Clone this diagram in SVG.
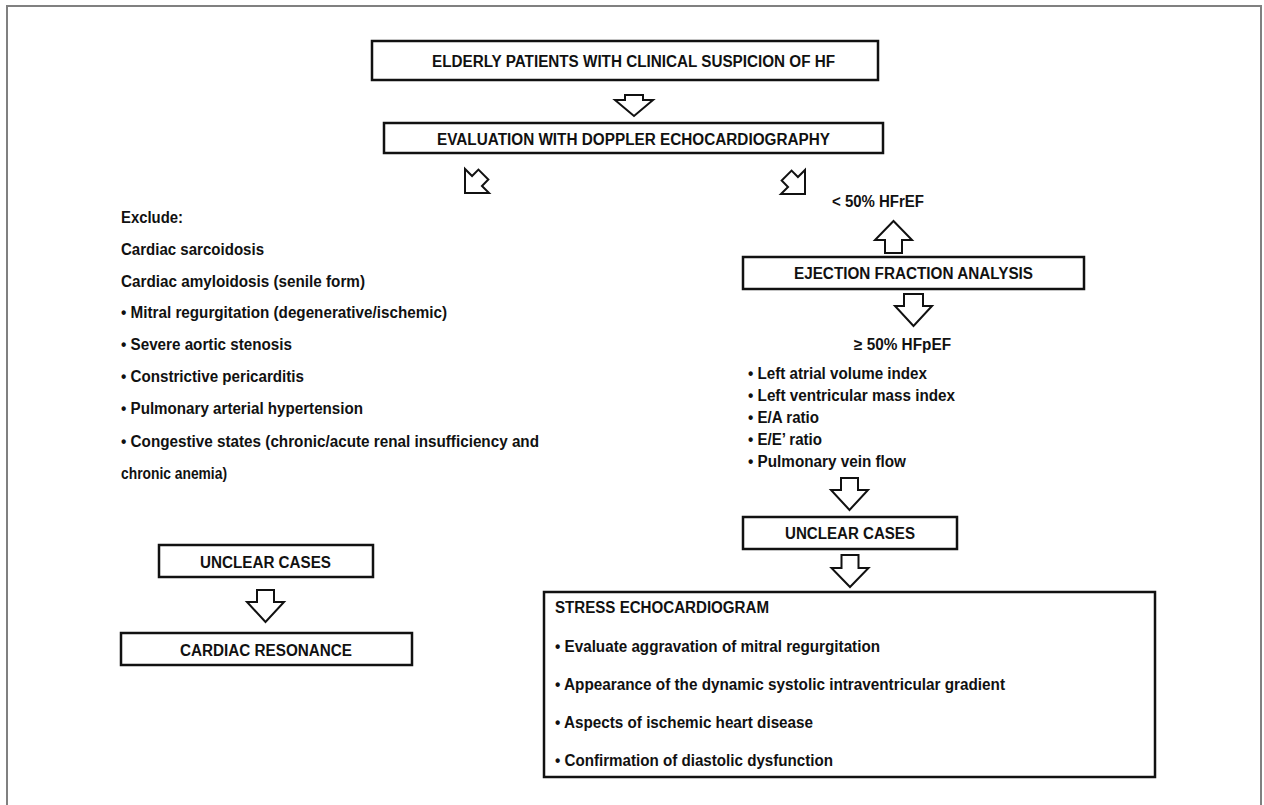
<svg xmlns="http://www.w3.org/2000/svg" width="1264" height="805" viewBox="0 0 1264 805">
<style>
.t{font-family:"Liberation Sans Narrow","Liberation Sans",Arial,sans-serif;font-weight:bold;font-size:16px;fill:#111}
.c{text-anchor:middle}
.box{fill:#fff;stroke:#111;stroke-width:2.5}
.arr{fill:#fff;stroke:#111;stroke-width:2}
</style>
<defs>
<polygon id="diag" points="0,0 -17,-17 -7,-17 -7,-26 7,-26 7,-17 17,-17"/>
</defs>
<rect x="7" y="6" width="1254" height="820" fill="#fff" stroke="#808080" stroke-width="2"/>

<g id="connectors">
<polygon class="arr" points="625,95 643,95 643,100 653,100 634,116 615,100 625,100"/>
<use href="#diag" class="arr" transform="translate(465,193) rotate(45)"/>
<use href="#diag" class="arr" transform="translate(805,194) rotate(-45)"/>
<polygon class="arr" points="885,253 902,253 902,240 912,240 893.5,221 875,240 885,240"/>
<polygon class="arr" points="904,294 923,294 923,306 932,306 913.5,326 895,306 904,306"/>
<polygon class="arr" points="841,478 858,478 858,490 868,490 849.5,510 831,490 841,490"/>
<polygon class="arr" points="841.5,555 858.5,555 858.5,568 868.5,568 850,587 831.5,568 841.5,568"/>
<polygon class="arr" points="257,590 274,590 274,602 284,602 265.5,622 247,602 257,602"/>
</g>

<g id="elderly">
<rect class="box" x="372" y="41" width="506" height="39"/>
<text class="t c" x="633.5" y="67" textLength="403" lengthAdjust="spacingAndGlyphs">ELDERLY PATIENTS WITH CLINICAL SUSPICION OF HF</text>
</g>

<g id="evaluation">
<rect class="box" x="384" y="123" width="499" height="30"/>
<text class="t c" x="633.5" y="145" textLength="393" lengthAdjust="spacingAndGlyphs">EVALUATION WITH DOPPLER ECHOCARDIOGRAPHY</text>
</g>

<g id="exclude">
<text class="t" x="121" y="223" textLength="62" lengthAdjust="spacingAndGlyphs">Exclude:</text>
<text class="t" x="121" y="255" textLength="143" lengthAdjust="spacingAndGlyphs">Cardiac sarcoidosis</text>
<text class="t" x="121" y="287" textLength="244" lengthAdjust="spacingAndGlyphs">Cardiac amyloidosis (senile form)</text>
<text class="t" x="121" y="318" textLength="326" lengthAdjust="spacingAndGlyphs">• Mitral regurgitation (degenerative/ischemic)</text>
<text class="t" x="121" y="350" textLength="171" lengthAdjust="spacingAndGlyphs">• Severe aortic stenosis</text>
<text class="t" x="121" y="382" textLength="183" lengthAdjust="spacingAndGlyphs">• Constrictive pericarditis</text>
<text class="t" x="121" y="414" textLength="242" lengthAdjust="spacingAndGlyphs">• Pulmonary arterial hypertension</text>
<text class="t" x="121" y="447" textLength="418" lengthAdjust="spacingAndGlyphs">• Congestive states (chronic/acute renal insufficiency and</text>
<text class="t" x="121" y="479" textLength="106" lengthAdjust="spacingAndGlyphs">chronic anemia)</text>
</g>

<g id="unclear-left">
<rect class="box" x="159" y="545" width="214" height="32"/>
<text class="t c" x="265.5" y="568" textLength="131" lengthAdjust="spacingAndGlyphs">UNCLEAR CASES</text>
</g>

<g id="cardiac-resonance">
<rect class="box" x="121" y="633" width="291" height="32"/>
<text class="t c" x="266" y="656" textLength="172" lengthAdjust="spacingAndGlyphs">CARDIAC RESONANCE</text>
</g>

<g id="hfref">
<text class="t" x="832" y="207" textLength="92" lengthAdjust="spacingAndGlyphs">&lt; 50% HFrEF</text>
</g>

<g id="ef-analysis">
<rect class="box" x="743" y="257" width="341" height="32"/>
<text class="t c" x="913.5" y="279" textLength="239" lengthAdjust="spacingAndGlyphs">EJECTION FRACTION ANALYSIS</text>
</g>

<g id="hfpef">
<text class="t" x="854" y="350" textLength="97" lengthAdjust="spacingAndGlyphs">≥ 50% HFpEF</text>
<text class="t" x="748" y="379" textLength="179" lengthAdjust="spacingAndGlyphs">• Left atrial volume index</text>
<text class="t" x="748" y="401" textLength="207" lengthAdjust="spacingAndGlyphs">• Left ventricular mass index</text>
<text class="t" x="748" y="423" textLength="71" lengthAdjust="spacingAndGlyphs">• E/A ratio</text>
<text class="t" x="748" y="445" textLength="74" lengthAdjust="spacingAndGlyphs">• E/E’ ratio</text>
<text class="t" x="748" y="467" textLength="158" lengthAdjust="spacingAndGlyphs">• Pulmonary vein flow</text>
</g>

<g id="unclear-right">
<rect class="box" x="743" y="517" width="214" height="32"/>
<text class="t c" x="850" y="539" textLength="130" lengthAdjust="spacingAndGlyphs">UNCLEAR CASES</text>
</g>

<g id="stress-echo">
<rect class="box" x="544" y="592" width="611" height="185"/>
<text class="t" x="555" y="613" textLength="214" lengthAdjust="spacingAndGlyphs">STRESS ECHOCARDIOGRAM</text>
<text class="t" x="555" y="652" textLength="325" lengthAdjust="spacingAndGlyphs">• Evaluate aggravation of mitral regurgitation</text>
<text class="t" x="555" y="690" textLength="450" lengthAdjust="spacingAndGlyphs">• Appearance of the dynamic systolic intraventricular gradient</text>
<text class="t" x="555" y="728" textLength="258" lengthAdjust="spacingAndGlyphs">• Aspects of ischemic heart disease</text>
<text class="t" x="555" y="766" textLength="278" lengthAdjust="spacingAndGlyphs">• Confirmation of diastolic dysfunction</text>
</g>
</svg>
